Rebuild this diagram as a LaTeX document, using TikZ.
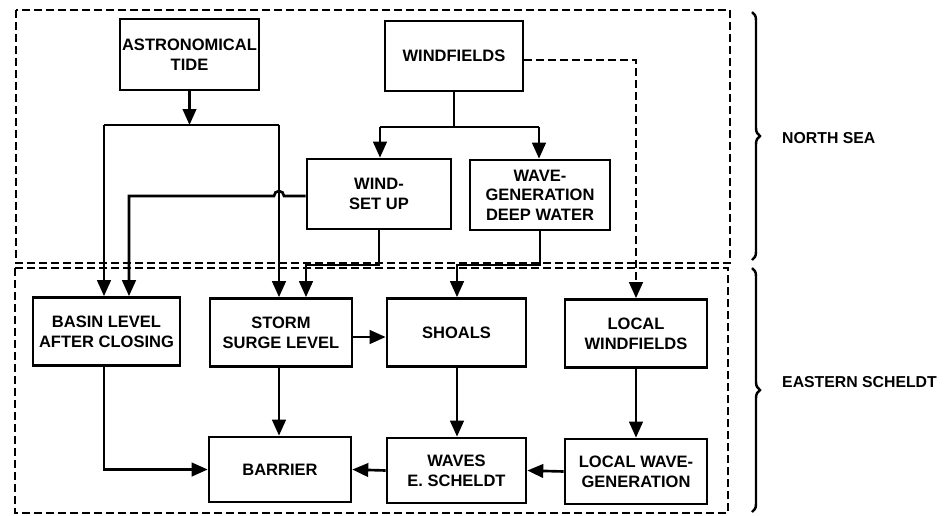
\documentclass[tikz,border=0pt]{standalone}
\usepackage{fontspec}
\setmainfont{Liberation Sans}
\usepackage{tikz}
\usetikzlibrary{arrows.meta,calc,decorations.pathreplacing}

\begin{document}
\begin{tikzpicture}[x=0.02cm, y=-0.02cm,
    box/.style={rectangle, draw, line width=1.5pt, fill=white, minimum width=2.84cm, minimum height=1.36cm, align=center, inner sep=1pt, font=\fontsize{9.4}{11.2}\selectfont\bfseries},
    line/.style={line width=1.5pt},
    arr/.style={line width=1.5pt, -{Triangle[length=0.32cm,width=0.27cm]}},
    region/.style={dashed, line width=1.1pt, dash pattern=on 0.16cm off 0.08cm},
    regionlabel/.style={anchor=west, font=\fontsize{9}{11}\selectfont\bfseries}]

    \useasboundingbox (0,0) rectangle (944,515);

    % Regions
    \draw[region] (16,10) rectangle (730,263);
    \draw[region] (15,268) rectangle (728,513);

    % North Sea
    \node[box, minimum width=2.78cm, minimum height=1.42cm] (astro) at (189.5,54.5) {ASTRONOMICAL\\TIDE};
    \node[box, minimum width=2.76cm, minimum height=1.4cm] (wind) at (454,56) {WINDFIELDS};
    \node[box, minimum width=2.88cm, minimum height=1.4cm] (setup) at (379,194) {WIND-\\SET UP};
    \node[box, minimum width=2.8cm, minimum height=1.4cm] (wavegen) at (540,195) {WAVE-\\GENERATION\\DEEP WATER};

    % Eastern Scheldt
    \node[box, minimum width=2.94cm] (basin) at (106.5,331.5) {BASIN LEVEL\\AFTER CLOSING};
    \node[box] (storm) at (281,332.5) {STORM\\SURGE LEVEL};
    \node[box, minimum width=2.78cm] (shoals) at (456.5,332.5) {SHOALS};
    \node[box] (localwind) at (636,333.5) {LOCAL\\WINDFIELDS};
    \node[box, minimum height=1.3cm] (barrier) at (280,469.5) {BARRIER};
    \node[box, minimum width=2.78cm, minimum height=1.3cm] (waves) at (456.5,470.5) {WAVES\\E. SCHELDT};
    \node[box, minimum height=1.3cm] (localwave) at (636,471.5) {LOCAL WAVE-\\GENERATION};

    % Tide to basin level and storm surge
    \coordinate (tideL) at (104,125);
    \coordinate (tideR) at (279,125);
    \draw[arr] (astro) -- (astro.south |- tideL);
    \draw[line] (tideL) -- (tideR);
    \draw[arr] (tideL) -- (tideL |- basin.north);
    \draw[arr] (tideR) -- (tideR |- storm.north);

    % Windfields split
    \coordinate (windL) at (380,127);
    \coordinate (windR) at (539,127);
    \draw[line] (wind.south) -- (wind.south |- windL);
    \draw[line] (windL) -- (windR);
    \draw[arr] (windL) -- (windL |- setup.north);
    \draw[arr] (windR) -- (windR |- wavegen.north);
    \draw[arr, dashed, dash pattern=on 0.16cm off 0.08cm] (wind.east |- 0,60) -| (localwind.north);

    % Wind set up
    \coordinate (setupL) at (129,196);
    \coordinate (setupJ) at (306,265);
    \draw[arr] (setup.west |- setupL) -- ($(tideR |- setupL)+(5,0)$) arc[start angle=0, end angle=180, radius=0.1cm] -- (setupL) -- (setupL |- basin.north);
    \draw[arr] (setup.south) |- (setupJ) -- (setupJ |- storm.north);

    % Wave generation to shoals
    \coordinate (waveJ) at (457,265);
    \draw[arr] (wavegen.south) |- (waveJ) -- (waveJ |- shoals.north);

    % Inside the Eastern Scheldt
    \draw[arr] (storm.east |- 0,337) -- (shoals.west |- 0,337);
    \draw[arr] (storm.south -| tideR) -- (tideR |- barrier.north);
    \draw[arr] (basin.south -| tideL) |- (barrier.west);
    \draw[arr] (shoals.south -| waveJ) -- (waveJ |- waves.north);
    \draw[arr] (localwind.south) -- (localwave.north);
    \draw[arr] (localwave.west) -- (waves.east);
    \draw[arr] (waves.west) -- (barrier.east);

    % Braces
    \draw[line width=1.4pt, decorate, decoration={brace, amplitude=0.16cm}] (752,12) -- (752,260);
    \draw[line width=1.4pt, decorate, decoration={brace, amplitude=0.16cm}] (752,268) -- (752,512);
    \node[regionlabel] (northsea) at (776,138) {NORTH SEA};
    \node[regionlabel] (scheldt) at (776,382) {EASTERN SCHELDT};
\end{tikzpicture}
\end{document}
